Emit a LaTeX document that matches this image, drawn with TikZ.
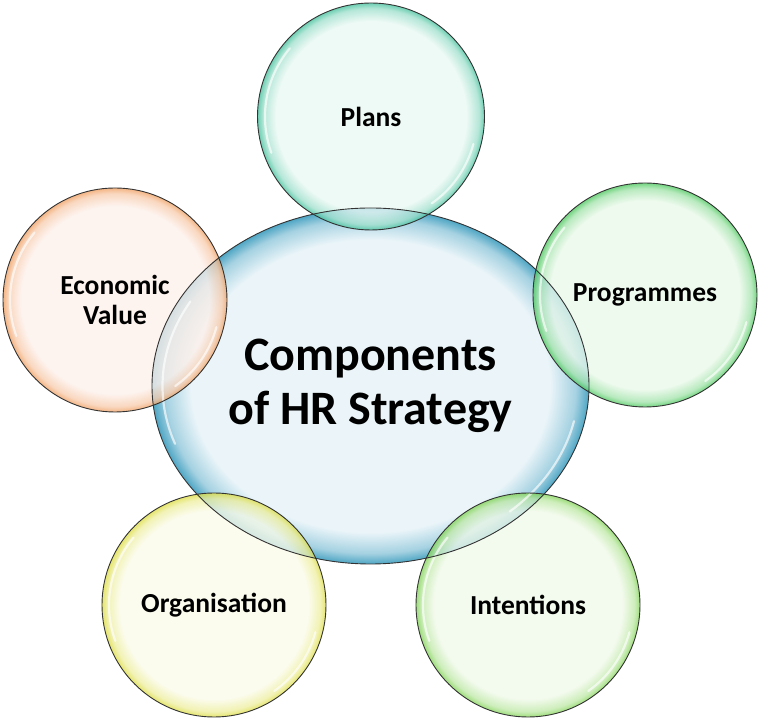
\documentclass[tikz,border=0pt]{standalone}
\usepackage{fontspec}
\setmainfont{Carlito}
\usetikzlibrary{shapes.geometric}
\definecolor{bluePale}{HTML}{EBF5F9}
\definecolor{blueEdge}{HTML}{4FA6C4}
\definecolor{tealPale}{HTML}{E9F8F3}
\definecolor{tealEdge}{HTML}{45C29D}
\definecolor{greenPale}{HTML}{EBF9EB}
\definecolor{greenEdge}{HTML}{4CC95E}
\definecolor{orangePale}{HTML}{FDF0EA}
\definecolor{orangeEdge}{HTML}{F0A062}
\definecolor{yellowPale}{HTML}{FAFBE9}
\definecolor{yellowEdge}{HTML}{DEDE44}
\definecolor{limePale}{HTML}{F0F9E9}
\definecolor{limeEdge}{HTML}{82D456}
\pgfdeclareradialshading{shblue}{\pgfpointorigin}{color(0bp)=(bluePale); color(20.5bp)=(bluePale); color(23.5bp)=(blueEdge!45!bluePale); color(25bp)=(blueEdge); color(50bp)=(blueEdge)}
\pgfdeclareradialshading{shteal}{\pgfpointorigin}{color(0bp)=(tealPale); color(21bp)=(tealPale); color(23.8bp)=(tealEdge!45!tealPale); color(25bp)=(tealEdge); color(50bp)=(tealEdge)}
\pgfdeclareradialshading{shgreen}{\pgfpointorigin}{color(0bp)=(greenPale); color(21bp)=(greenPale); color(23.8bp)=(greenEdge!45!greenPale); color(25bp)=(greenEdge); color(50bp)=(greenEdge)}
\pgfdeclareradialshading{shorange}{\pgfpointorigin}{color(0bp)=(orangePale); color(21bp)=(orangePale); color(23.8bp)=(orangeEdge!45!orangePale); color(25bp)=(orangeEdge); color(50bp)=(orangeEdge)}
\pgfdeclareradialshading{shyellow}{\pgfpointorigin}{color(0bp)=(yellowPale); color(21bp)=(yellowPale); color(23.8bp)=(yellowEdge!45!yellowPale); color(25bp)=(yellowEdge); color(50bp)=(yellowEdge)}
\pgfdeclareradialshading{shlime}{\pgfpointorigin}{color(0bp)=(limePale); color(21bp)=(limePale); color(23.8bp)=(limeEdge!45!limePale); color(25bp)=(limeEdge); color(50bp)=(limeEdge)}
\begin{document}
\begin{tikzpicture}[x=1bp,y=1bp,
  bubble/.style={circle, shade, minimum size=#1, inner sep=0pt, fill opacity=0.78, text opacity=1,
    font=\bfseries\fontsize{27.5bp}{30bp}\selectfont, align=center},
  rim/.style={draw=black!80, line width=0.9bp},
  gloss/.style={draw=white, line width=2.2bp, opacity=0.65, line cap=round}]
\useasboundingbox (0,0) rectangle (760,720);
% central ellipse
\node[ellipse, shade, shading=shblue, minimum width=437bp, minimum height=356bp, inner sep=0pt,
  font=\bfseries\fontsize{48bp}{54bp}\selectfont, align=center] (core) at (370.5,334) {Components\\of HR Strategy};
% satellite bubbles
\node[bubble=227bp, shading=shteal] (plans) at (371,603.5) {Plans};
\node[bubble=224bp, shading=shgreen] (prog) at (645,425) {Programmes};
\node[bubble=224bp, shading=shorange] (econ) at (115,420) {Economic\\Value};
\node[bubble=224bp, shading=shyellow] (org) at (214,115) {Organisation};
\node[bubble=224bp, shading=shlime] (intent) at (528,115) {Intentions};
% gloss highlights
\draw[gloss] (core.center) ++({208*cos(-12)},{169*sin(-12)}) arc[start angle=-12, end angle=-48, x radius=208bp, y radius=169bp];
\draw[gloss] (core.center) ++({208*cos(150)},{169*sin(150)}) arc[start angle=150, end angle=200, x radius=208bp, y radius=169bp];
\foreach \n/\r in {plans/106, prog/105, econ/105, org/105, intent/105}{
  \draw[gloss] (\n.center) ++(140:\r bp) arc[start angle=140, end angle=200, radius=\r bp];
  \draw[gloss] (\n.center) ++(-15:\r bp) arc[start angle=-15, end angle=-55, radius=\r bp];
}
% outlines
\draw[rim] (core.center) ellipse[x radius=218.5bp, y radius=178bp];
\draw[rim] (plans.center) circle[radius=113.5bp];
\draw[rim] (prog.center) circle[radius=112bp];
\draw[rim] (econ.center) circle[radius=112bp];
\draw[rim] (org.center) circle[radius=112bp];
\draw[rim] (intent.center) circle[radius=112bp];
\end{tikzpicture}
\end{document}
